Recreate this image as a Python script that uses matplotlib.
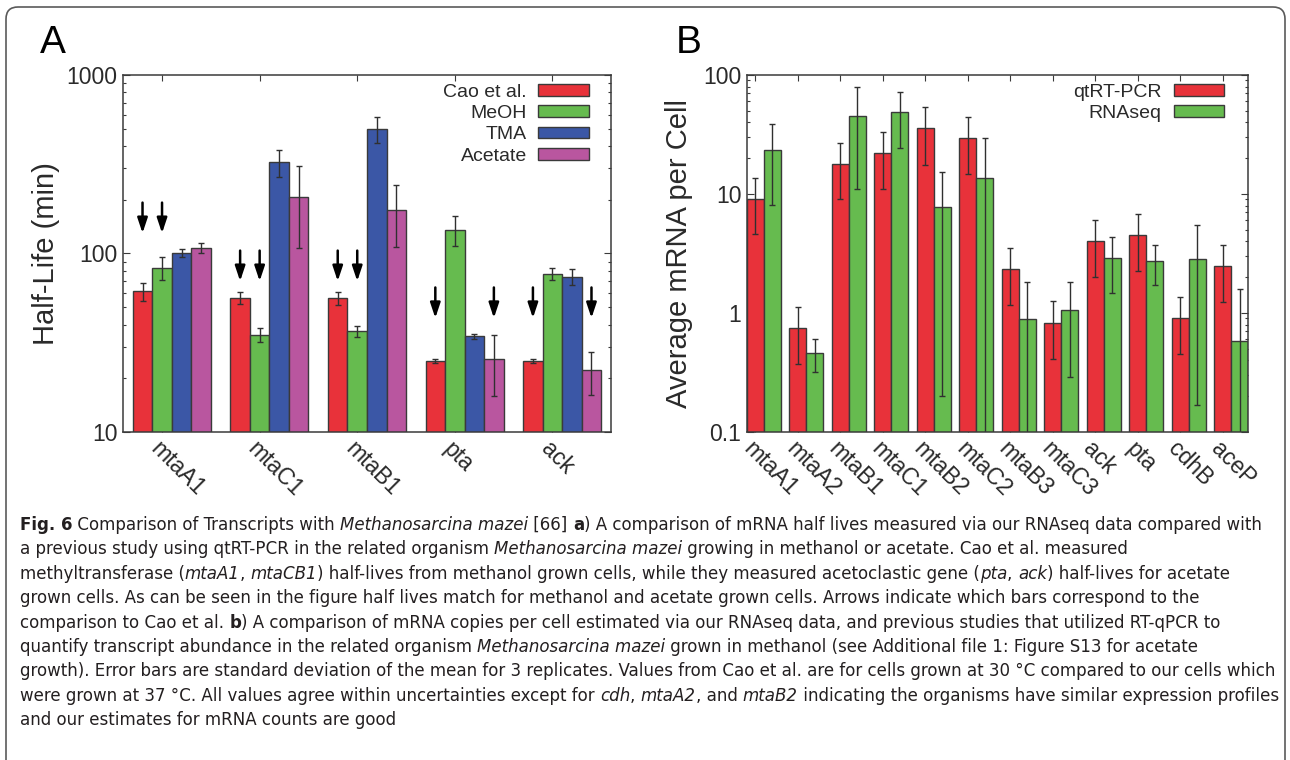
import re

import matplotlib
matplotlib.use("Agg")
import matplotlib.pyplot as plt
from matplotlib import font_manager
from matplotlib.patches import FancyBboxPatch
from matplotlib.transforms import IdentityTransform
from matplotlib.ticker import FuncFormatter, NullFormatter

# ---- panel A: mRNA half-lives (min) ----
genes_a = ["mtaA1", "mtaC1", "mtaB1", "pta", "ack"]
series_a = ["Cao et al.", "MeOH", "TMA", "Acetate"]
cao = [61.5, 56.5, 56.0, 25.0, 25.0]
cao_err = [7.0, 4.5, 4.5, 0.5, 0.5]
meoh = [83.0, 35.0, 36.7, 136.0, 77.0]
meoh_err = [12.0, 3.2, 2.8, 26.0, 6.0]
tma = [101.0, 325.0, 496.0, 34.3, 74.3]
tma_err = [5.0, 55.0, 82.0, 1.3, 8.0]
acetate = [107.0, 208.0, 176.0, 25.5, 22.2]
acetate_err = [7.0, 100.0, 67.0, 9.6, 6.0]
# bars marked with an arrow (index into series_a) and height of the arrow tip
arrow_bars = [[0, 1], [0, 1], [0, 1], [0, 3], [0, 3]]
arrow_tips = [130.0, 70.0, 70.0, 43.5, 43.5]

# ---- panel B: average mRNA per cell ----
genes_b = ["mtaA1", "mtaA2", "mtaB1", "mtaC1", "mtaB2", "mtaC2",
           "mtaB3", "mtaC3", "ack", "pta", "cdhB", "aceP"]
series_b = ["qtRT-PCR", "RNAseq"]
qpcr = [9.1, 0.75, 18.0, 22.0, 35.6, 29.7, 2.34, 0.83, 4.03, 4.52, 0.90, 2.47]
qpcr_err = [4.5, 0.38, 9.0, 11.0, 18.0, 15.0, 1.17, 0.42, 2.03, 2.27, 0.45, 1.23]
rnaseq = [23.6, 0.46, 45.0, 48.5, 7.8, 13.5, 0.89, 1.06, 2.92, 2.73, 2.82, 0.58]
rnaseq_err = [15.5, 0.14, 34.0, 24.0, 7.6, 16.0, 0.93, 0.77, 1.45, 1.0, 2.65, 1.0]

# caption, **bold** and *italic* marked inline
caption_lines = [
    "**Fig. 6** Comparison of Transcripts with *Methanosarcina mazei* [66] **a**) A comparison of mRNA half lives measured via our RNAseq data compared with",
    "a previous study using qtRT-PCR in the related organism *Methanosarcina mazei* growing in methanol or acetate. Cao et al. measured",
    "methyltransferase (*mtaA1*, *mtaCB1*) half-lives from methanol grown cells, while they measured acetoclastic gene (*pta*, *ack*) half-lives for acetate",
    "grown cells. As can be seen in the figure half lives match for methanol and acetate grown cells. Arrows indicate which bars correspond to the",
    "comparison to Cao et al. **b**) A comparison of mRNA copies per cell estimated via our RNAseq data, and previous studies that utilized RT-qPCR to",
    "quantify transcript abundance in the related organism *Methanosarcina mazei* grown in methanol (see Additional file 1: Figure S13 for acetate",
    "growth). Error bars are standard deviation of the mean for 3 replicates. Values from Cao et al. are for cells grown at 30 °C compared to our cells which",
    "were grown at 37 °C. All values agree within uncertainties except for *cdh*, *mtaA2*, and *mtaB2* indicating the organisms have similar expression profiles",
    "and our estimates for mRNA counts are good",
]

RED, GREEN, BLUE, MAGENTA = "#e8323a", "#66bb4f", "#3b57a6", "#b9569f"
EDGE = "#3a3a3a"
INK = "#2a2a2a"


def narrow_font():
    # a condensed face is closer to the caption font, use one if it is installed
    for fam, stretch, tag in [("Liberation Sans Narrow", "normal", "Narrow"),
                              ("DejaVu Sans", "condensed", "Condensed")]:
        try:
            path = font_manager.findfont(font_manager.FontProperties(family=fam, stretch=stretch),
                                         fallback_to_default=False)
            if tag in path:
                return fam, stretch
        except Exception:
            pass
    return "Liberation Sans", "normal"


cap_family, cap_stretch = narrow_font()
plt.rcParams["font.family"] = ["Liberation Sans", "DejaVu Sans"]

fig = plt.figure(figsize=(12.9, 7.6), dpi=100)
W, H = 1290.0, 760.0
ax_a = fig.add_axes([123 / W, 1 - 432 / H, 488 / W, 357 / H])
ax_b = fig.add_axes([747 / W, 1 - 432 / H, 501 / W, 357 / H])


def style_axes(ax, tick_pos, labels):
    ax.set_yscale("log")
    ax.set_axisbelow(True)
    for sp in ax.spines.values():
        sp.set_color(EDGE)
        sp.set_linewidth(1.1)
    ax.yaxis.set_major_formatter(FuncFormatter(lambda v, p: f"{v:g}"))
    ax.yaxis.set_minor_formatter(NullFormatter())
    ax.tick_params(axis="y", which="both", direction="in", left=True, right=True,
                   color=EDGE, labelcolor=INK, width=0.8)
    ax.tick_params(axis="y", which="major", length=5, labelsize=16.5, pad=4)
    ax.tick_params(axis="y", which="minor", length=2.5)
    ax.set_xticks(tick_pos)
    ax.set_xticklabels(labels, rotation=-45, ha="left", va="top",
                       rotation_mode="anchor", fontsize=16.5, color=INK)
    ax.tick_params(axis="x", direction="in", top=True, bottom=True, length=4.5,
                   width=0.8, color=EDGE, pad=4)


def add_legend(ax, anchor_x):
    leg = ax.legend(loc="upper right", bbox_to_anchor=(anchor_x, 0.986), markerfirst=False,
                    frameon=False, fontsize=14, handlelength=2.6, handleheight=0.55,
                    labelspacing=0.22, handletextpad=0.6, borderaxespad=0, borderpad=0.2)
    for t in leg.get_texts():
        t.set_color(INK)


err_kw = dict(ecolor="#303030", elinewidth=1.0, capsize=2.5, capthick=1.0)

# ---- panel A ----
values_a = [cao, meoh, tma, acetate]
errors_a = [cao_err, meoh_err, tma_err, acetate_err]
colors_a = [RED, GREEN, BLUE, MAGENTA]
offsets_a = [-0.3, -0.1, 0.1, 0.3]
xa = list(range(len(genes_a)))
for vals, errs, col, off, name in zip(values_a, errors_a, colors_a, offsets_a, series_a):
    ax_a.bar([x + off for x in xa], vals, width=0.2, yerr=errs, color=col,
             edgecolor=EDGE, linewidth=1.0, label=name, error_kw=err_kw)
for gi, (bars, tip) in enumerate(zip(arrow_bars, arrow_tips)):
    for bi in bars:
        ax_a.annotate("", xy=(gi + offsets_a[bi], tip), xytext=(0, 22),
                      textcoords="offset points",
                      arrowprops=dict(arrowstyle="-|>,head_length=0.9,head_width=0.3",
                                      lw=1.8, color="black", shrinkA=0, shrinkB=0))
ax_a.set_xlim(-0.5, len(genes_a) - 0.5)
ax_a.set_ylim(10, 1000)
style_axes(ax_a, [x - 0.1 for x in xa], genes_a)
ax_a.set_ylabel("Half-Life (min)", fontsize=21, color=INK, labelpad=5)
add_legend(ax_a, 0.963)

# ---- panel B ----
xb = list(range(len(genes_b)))
ax_b.bar([x - 0.2 for x in xb], qpcr, width=0.4, yerr=qpcr_err, color=RED,
         edgecolor=EDGE, linewidth=1.0, label=series_b[0], error_kw=err_kw)
ax_b.bar([x + 0.2 for x in xb], rnaseq, width=0.4, yerr=rnaseq_err, color=GREEN,
         edgecolor=EDGE, linewidth=1.0, label=series_b[1], error_kw=err_kw)
ax_b.set_xlim(-0.4, len(genes_b) - 0.6)
ax_b.set_ylim(0.1, 100)
style_axes(ax_b, [x - 0.2 for x in xb], genes_b)
ax_b.set_ylabel("Average mRNA per Cell", fontsize=21, color=INK, labelpad=7)
add_legend(ax_b, 0.960)

# panel letters
fig.text(40 / W, 1 - 53 / H, "A", fontsize=28, va="baseline", color="black")
fig.text(676 / W, 1 - 53 / H, "B", fontsize=28, va="baseline", color="black")

# ---- caption: mixed bold / italic runs laid out one after another ----
renderer = fig.canvas.get_renderer()


def runs(line):
    out = []
    for part in re.split(r"(\*\*.+?\*\*|\*.+?\*)", line):
        if not part:
            continue
        if part.startswith("**"):
            out.append((part[2:-2], "normal", "bold"))
        elif part.startswith("*"):
            out.append((part[1:-1], "italic", "normal"))
        else:
            out.append((part, "normal", "normal"))
    return out


def run_width(txt, size, style, weight):
    # bracket with bars so that leading / trailing spaces are counted
    t = fig.text(0, 0, "|" + txt + "|", fontsize=size, family=cap_family,
                 stretch=cap_stretch, style=style, weight=weight)
    w1 = t.get_window_extent(renderer).width
    t.set_text("||")
    w2 = t.get_window_extent(renderer).width
    t.remove()
    return w1 - w2


# one size for the whole caption, so that the longest line still fits in the frame
base = 13.0
widest = max(sum(run_width(t, base, s, w) for t, s, w in runs(line)) for line in caption_lines)
cap_size = base * 1256 / widest
for i, line in enumerate(caption_lines):
    x_px = 20.0
    y = 1 - (530 + i * 24.4) / H
    for txt, style, weight in runs(line):
        fig.text(x_px / W, y, txt, fontsize=cap_size, family=cap_family, stretch=cap_stretch,
                 style=style, weight=weight, color="#231f20", va="baseline")
        x_px += run_width(txt, cap_size, style, weight)

# rounded frame, open at the bottom
frame = FancyBboxPatch((6, -30), 1279, 783, boxstyle="round,pad=0,rounding_size=12",
                       transform=IdentityTransform(), fill=False, edgecolor="#5a5a5a",
                       linewidth=1.2)
fig.patches.append(frame)

fig.savefig("out.png", dpi=100)
